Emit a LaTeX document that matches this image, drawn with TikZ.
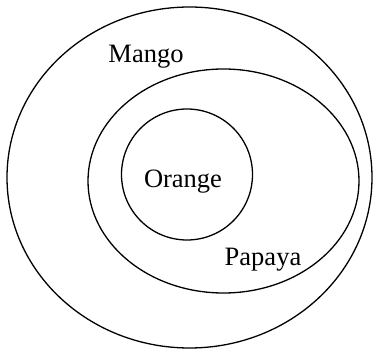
\documentclass[tikz,border=0pt]{standalone}
\usepackage{fontspec}
\setmainfont{Liberation Serif}
\usetikzlibrary{shapes.geometric}
\tikzset{
  ring/.style={draw, ellipse, line width=1.3pt, inner sep=0pt},
  fruit/.style={font=\fontsize{26.5}{30}\selectfont, inner sep=0pt}
}
\begin{document}
\begin{tikzpicture}[x=1pt, y=1pt]
    \useasboundingbox (0, 0) rectangle (376, 354);
    \node[ring, minimum width=365pt, minimum height=341pt] (mangoset) at (189.5, 176.5) {};
    \node[ring, minimum width=271pt, minimum height=224pt] (papayaset) at (223.5, 173) {};
    \node[ring, circle, minimum size=131pt] (orangeset) at (187, 179.5) {};
    \node[fruit] (mango) at (146, 297) {Mango};
    \node[fruit] (orange) at (183, 172) {Orange};
    \node[fruit] (papaya) at (263, 94) {Papaya};
  \end{tikzpicture}
\end{document}
